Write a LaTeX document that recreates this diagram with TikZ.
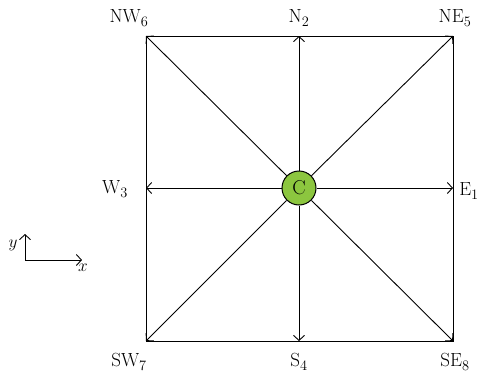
\documentclass[tikz,border=0pt]{standalone}
\usepackage{fontspec}
\usepackage{tikz}
\usetikzlibrary{arrows.meta,positioning}
\definecolor{cgreen}{HTML}{8CC63F}

\begin{document}
\begin{tikzpicture}[x=1pt,y=-1pt,
  hub/.style={circle,draw=black,fill=cgreen,line width=1pt,minimum size=34pt,
    inner sep=0pt,font=\fontsize{20}{22}\selectfont},
  lbl/.style={font=\fontsize{19}{21}\selectfont,inner sep=0pt},
  arr/.style={-{Straight Barb[length=5pt,width=11pt]},line width=0.9pt},
  frame/.style={line width=0.9pt}]
  \useasboundingbox (0,0) rectangle (480,381);
  % corners and sides
  \coordinate (nw) at (146,36);
  \coordinate (ne) at (453,36);
  \coordinate (sw) at (146,341);
  \coordinate (se) at (453,341);
  \coordinate (n) at (299,36);
  \coordinate (s) at (299,341);
  \coordinate (w) at (146,188);
  \coordinate (e) at (453,188);
  \draw[frame] (nw) -- (ne) -- (se) -- (sw) -- cycle;
  \node[hub] (c) at (299,188) {C};
  \foreach \t in {n,ne,e,se,s,sw,w,nw}
    \draw[arr] (c) -- (\t);
  % labels
  \node[lbl] (lnw) at (129,18) {NW$_6$};
  \node[lbl] (ln) at (299,18) {N$_2$};
  \node[lbl] (lne) at (455,18) {NE$_5$};
  \node[lbl] (lw) at (115,189) {W$_3$};
  \node[lbl] (le) at (469,191) {E$_1$};
  \node[lbl] (lsw) at (129,362) {SW$_7$};
  \node[lbl] (ls) at (299,362) {S$_4$};
  \node[lbl] (lse) at (455,362) {SE$_8$};
  % axes
  \coordinate (o) at (25,260);
  \coordinate (oy) at (25,234);
  \coordinate (ox) at (82,260);
  \draw[arr] (o) -- (oy);
  \draw[arr] (o) -- (ox);
  \node[lbl] (ly) at (13,245) {$y$};
  \node[lbl] (lx) at (83,268) {$x$};
\end{tikzpicture}
\end{document}
